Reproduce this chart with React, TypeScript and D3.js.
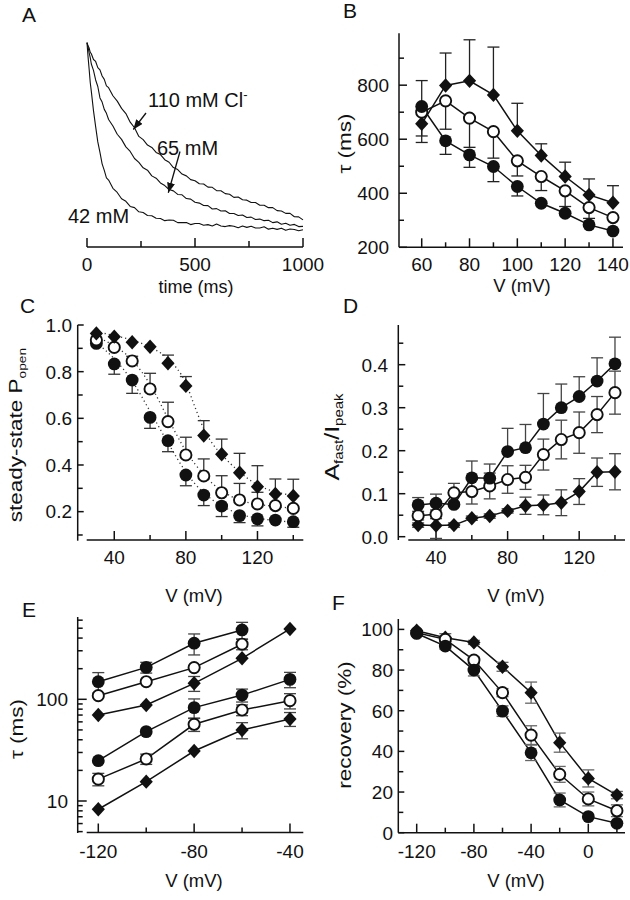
import React from "react";
import * as d3 from "d3";

const FONT = "'Liberation Sans', Arial, Helvetica, sans-serif";
const INK = "#111";

// ---------------- Panel A: current traces ----------------
const A_TIME = [0,5,10,15,20,30,40,50,60,70,80,90,100,120,140,160,180,200,220,240,260,280,300,320,340,360,380,400,420,440,460,480,500,520,540,560,580,600,620,640,660,680,700,720,740,760,780,800,820,840,860,880,900,920,940,960,980,1000];
const A_110 = [1.000,0.983,0.973,0.951,0.944,0.915,0.905,0.874,0.862,0.831,0.814,0.781,0.772,0.731,0.704,0.667,0.641,0.597,0.569,0.525,0.509,0.481,0.469,0.444,0.433,0.407,0.394,0.367,0.357,0.334,0.325,0.306,0.300,0.285,0.284,0.268,0.267,0.250,0.250,0.235,0.232,0.216,0.218,0.204,0.202,0.190,0.190,0.176,0.176,0.164,0.164,0.149,0.147,0.135,0.135,0.118,0.117,0.102];
const A_65 = [1.000,0.978,0.948,0.924,0.892,0.860,0.811,0.778,0.720,0.699,0.662,0.642,0.611,0.578,0.536,0.510,0.472,0.449,0.413,0.393,0.366,0.354,0.325,0.313,0.289,0.276,0.256,0.249,0.231,0.229,0.210,0.207,0.191,0.187,0.175,0.174,0.157,0.159,0.147,0.148,0.134,0.134,0.124,0.127,0.114,0.116,0.104,0.106,0.098,0.100,0.088,0.092,0.080,0.085,0.075,0.079,0.068,0.069];
const A_42 = [1.000,0.927,0.864,0.798,0.753,0.656,0.575,0.497,0.444,0.386,0.353,0.315,0.304,0.262,0.241,0.209,0.196,0.170,0.164,0.143,0.139,0.124,0.123,0.110,0.109,0.098,0.101,0.100,0.088,0.088,0.089,0.078,0.084,0.084,0.075,0.078,0.071,0.081,0.071,0.068,0.073,0.070,0.062,0.071,0.064,0.070,0.061,0.061,0.067,0.055,0.060,0.054,0.060,0.049,0.056,0.053,0.047,0.052];
const A_XMAJOR = [0, 500, 1000];
const A_XMINOR = [250, 750];
const A_XLABELS = ["0", "500", "1000"];

// ---------------- Panel B: tau vs V ----------------
const B_V = [60,70,80,90,100,110,120,130,140];
const B_FILLED = [721,594,542,499,425,363,326,283,260];
const B_FILLED_DOWN = [133,50,46,56,35,0,0,0,0];
const B_OPEN = [700,742,678,628,520,462,409,347,310];
const B_OPEN_DOWN = [88,105,108,98,56,52,58,40,0];
const B_DIAMOND = [657,799,816,764,631,540,462,394,365];
const B_DIAMOND_UP = [160,120,152,177,102,43,53,59,63];
const B_XMAJOR = [60,80,100,120,140];
const B_XMINOR = [70,90,110,130];
const B_YMAJOR = [200,400,600,800];
const B_YMINOR = [300,500,700,900];

// ---------------- Panel C: steady-state Popen ----------------
const C_V = [30,40,50,60,70,80,90,100,110,120,130,140];
const C_DIAMOND = [0.964,0.950,0.926,0.907,0.836,0.739,0.526,0.446,0.367,0.307,0.276,0.267];
const C_DIAMOND_UP = [0,0,0,0,0.035,0.040,0.064,0.065,0.083,0.090,0.064,0.072];
const C_OPEN = [0.936,0.904,0.846,0.726,0.586,0.443,0.353,0.281,0.250,0.233,0.226,0.214];
const C_OPEN_UP = [0,0,0.020,0.067,0.083,0.076,0.073,0.073,0.071,0.050,0.050,0];
const C_FILLED = [0.921,0.833,0.764,0.604,0.504,0.357,0.271,0.224,0.183,0.169,0.164,0.157];
const C_FILLED_DOWN = [0,0.044,0.057,0.047,0.047,0.046,0.045,0.045,0.030,0.030,0,0.024];
const C_FIT_V = [30,40,50,60,70,80,85,90,95,100,110,120,130,140];
const C_FIT_DIAMOND = [0.970,0.955,0.935,0.905,0.855,0.750,0.650,0.555,0.490,0.445,0.370,0.315,0.285,0.270];
const C_FIT_OPEN = [0.950,0.910,0.850,0.745,0.600,0.460,0.405,0.360,0.320,0.290,0.250,0.232,0.222,0.215];
const C_FIT_FILLED = [0.925,0.855,0.760,0.630,0.495,0.370,0.320,0.280,0.250,0.225,0.190,0.172,0.162,0.155];
const C_XMAJOR = [40,80,120];
const C_XMINOR = [60,100,140];
const C_YMAJOR = [0.2,0.4,0.6,0.8,1.0];
const C_YMINOR = [0.1,0.3,0.5,0.7,0.9];

// ---------------- Panel D: Afast/Ipeak ----------------
const D_V = [30,40,50,60,70,80,90,100,110,120,130,140];
const D_FILLED = [0.074,0.078,0.075,0.137,0.136,0.198,0.207,0.262,0.300,0.326,0.362,0.402];
const D_FILLED_UP = [0.017,0.021,0,0.039,0.033,0.054,0.054,0.071,0.055,0.046,0.054,0.062];
const D_OPEN = [0.049,0.052,0.102,0.105,0.118,0.133,0.138,0.191,0.226,0.242,0.284,0.335];
const D_OPEN_ERR = [0.010,0.010,0.022,0.029,0.030,0.032,0.028,0.036,0.045,0.048,0.042,0.050];
const D_DIAMOND = [0.027,0.026,0.027,0.043,0.048,0.060,0.072,0.074,0.079,0.105,0.150,0.151];
const D_DIAMOND_ERR = [0.005,0.030,0.005,0.005,0.005,0.005,0.020,0.023,0.030,0.030,0.033,0.042];
const D_XMAJOR = [40,80,120];
const D_XMINOR = [60,100,140];
const D_YMAJOR = [0,0.1,0.2,0.3,0.4];
const D_YMINOR = [0.05,0.15,0.25,0.35,0.45];

// ---------------- Panel E: tau (log) vs V ----------------
const E_V = [-120,-100,-80,-60,-40];
const E_FILLED_SLOW = [149,206,356,481];
const E_FILLED_SLOW_ERR = [34,25,83,90];
const E_OPEN_SLOW = [108.6,149,205,348];
const E_OPEN_SLOW_ERR = [0,0,0,41];
const E_DIAMOND_SLOW = [70.2,87.9,143.6,253,492];
const E_DIAMOND_SLOW_ERR = [0,0,24,0,0];
const E_FILLED_FAST = [24.9,48.1,82.8,110,157];
const E_FILLED_FAST_ERR = [0,0,18,16,27];
const E_OPEN_FAST = [16.4,25.9,56.8,78.5,97];
const E_OPEN_FAST_ERR = [2.3,3,8.5,9.5,16.6];
const E_DIAMOND_FAST = [8.3,15.5,31,49.9,64.1];
const E_DIAMOND_FAST_ERR = [0,0,0,9,10];
const E_XMAJOR = [-120,-80,-40];
const E_XMINOR = [-100,-60];
const E_YMAJOR = [10,100];
const E_YMINOR = [5,6,7,8,9,20,30,40,50,60,70,80,90,200,300,400,500,600];

// ---------------- Panel F: recovery ----------------
const F_V = [-120,-100,-80,-60,-40,-20,0,20];
const F_DIAMOND = [99.3,95.9,93.6,81.6,68.9,44.3,26.7,18.5];
const F_DIAMOND_ERR = [0,2,1,2.2,5.2,4.7,4.2,1.8];
const F_OPEN = [98.4,95.1,84.9,68.9,48,28.7,16.6,10.8];
const F_OPEN_ERR = [0,1,1.5,2,4.6,3.9,3.4,2.9];
const F_FILLED = [98,91.8,80,59.8,39.3,16.1,7.9,4.6];
const F_FILLED_ERR = [0,1.5,2.9,2.6,3.8,3.4,0,0];
const F_XMAJOR = [-120,-80,-40,0];
const F_XMINOR = [-100,-60,-20,20];
const F_YMAJOR = [0,20,40,60,80,100];
const F_YMINOR = [10,30,50,70,90];

type Scale = (v: number) => number;
type Ser = { shape: "filled" | "open" | "diamond"; xs: number[]; ys: number[]; up?: number[]; down?: number[] };

function Marker({ shape, cx, cy }: { shape: string; cx: number; cy: number }) {
  if (shape === "filled") return <circle cx={cx} cy={cy} r={6.4} fill={INK} />;
  if (shape === "open") return <circle cx={cx} cy={cy} r={5.6} fill="#fff" stroke={INK} strokeWidth={1.9} />;
  return <path d={`M${cx},${cy - 7.2}L${cx + 6.6},${cy}L${cx},${cy + 7.2}L${cx - 6.6},${cy}Z`} fill={INK} />;
}

function Plot({ sx, sy, series, connect, errColor }: { sx: Scale; sy: Scale; series: Ser[]; connect: boolean; errColor: string }) {
  return (
    <g>
      {connect &&
        series.map((s, k) => {
          const line = d3.line<number>().x((_, i) => sx(s.xs[i])).y((d) => sy(d));
          return <path key={"l" + k} d={line(s.ys) || ""} fill="none" stroke={INK} strokeWidth={1.5} />;
        })}
      {series.map((s, k) => (
        <g key={"e" + k} stroke={errColor} strokeWidth={1.3}>
          {s.ys.map((v, i) => {
            const x = sx(s.xs[i]);
            const out: any[] = [];
            const u = s.up ? s.up[i] : 0;
            const d = s.down ? s.down[i] : 0;
            if (u > 0) {
              const y2 = sy(v + u);
              out.push(<line key={"u" + i} x1={x} x2={x} y1={sy(v)} y2={y2} />);
              out.push(<line key={"uc" + i} x1={x - 6} x2={x + 6} y1={y2} y2={y2} />);
            }
            if (d > 0) {
              const y2 = sy(v - d);
              out.push(<line key={"d" + i} x1={x} x2={x} y1={sy(v)} y2={y2} />);
              out.push(<line key={"dc" + i} x1={x - 6} x2={x + 6} y1={y2} y2={y2} />);
            }
            return out;
          })}
        </g>
      ))}
      {series.map((s, k) => (
        <g key={"m" + k}>
          {s.ys.map((v, i) => (
            <Marker key={i} shape={s.shape} cx={sx(s.xs[i])} cy={sy(v)} />
          ))}
        </g>
      ))}
    </g>
  );
}

function Axes(p: {
  sx: Scale; sy?: Scale;
  xAxisY: number; xFrom: number; xTo: number;
  yAxisX?: number; yFrom?: number; yTo?: number;
  xMajor: number[]; xMinor: number[]; xLabels: string[]; xLabelY: number;
  yMajor?: number[]; yMinor?: number[]; yLabels?: string[]; yLabelX?: number;
  xMajLen?: number; xMinLen?: number; yMajLen?: number; yMinLen?: number;
}) {
  const xMajLen = p.xMajLen ?? 9, xMinLen = p.xMinLen ?? 5, yMajLen = p.yMajLen ?? 8, yMinLen = p.yMinLen ?? 5;
  return (
    <g>
      <g stroke={INK} strokeWidth={1.5} fill="none">
        <line x1={p.xFrom} x2={p.xTo} y1={p.xAxisY} y2={p.xAxisY} />
        {p.xMajor.map((v) => (
          <line key={"xM" + v} x1={p.sx(v)} x2={p.sx(v)} y1={p.xAxisY} y2={p.xAxisY - xMajLen} />
        ))}
        {p.xMinor.map((v) => (
          <line key={"xm" + v} x1={p.sx(v)} x2={p.sx(v)} y1={p.xAxisY} y2={p.xAxisY - xMinLen} />
        ))}
        {p.sy && p.yAxisX !== undefined && (
          <g>
            <line x1={p.yAxisX} x2={p.yAxisX} y1={p.yFrom} y2={p.yTo} />
            {(p.yMajor || []).map((v) => (
              <line key={"yM" + v} x1={p.yAxisX} x2={p.yAxisX! + yMajLen} y1={p.sy!(v)} y2={p.sy!(v)} />
            ))}
            {(p.yMinor || []).map((v) => (
              <line key={"ym" + v} x1={p.yAxisX} x2={p.yAxisX! + yMinLen} y1={p.sy!(v)} y2={p.sy!(v)} />
            ))}
          </g>
        )}
      </g>
      <g fontSize={19} fill={INK} fontFamily={FONT}>
        {p.xMajor.map((v, i) => (
          <text key={"xl" + v} x={p.sx(v)} y={p.xLabelY} textAnchor="middle">
            {p.xLabels[i]}
          </text>
        ))}
        {p.sy &&
          (p.yMajor || []).map((v, i) =>
            p.yLabels && p.yLabels[i] ? (
              <text key={"yl" + v} x={p.yLabelX} y={p.sy!(v)} dy="0.36em" textAnchor="end">
                {p.yLabels[i]}
              </text>
            ) : null
          )}
      </g>
    </g>
  );
}

function HTitle({ x, y, children, size = 18.5 }: any) {
  return (
    <text x={x} y={y} textAnchor="middle" fontSize={size} fontFamily={FONT} fill={INK}>
      {children}
    </text>
  );
}

function VTitle({ x, y, children, size = 18, stretch = 1.25 }: any) {
  return (
    <text transform={`translate(${x},${y}) rotate(-90) scale(${stretch},1)`} textAnchor="middle" fontSize={size} fontFamily={FONT} fill={INK}>
      {children}
    </text>
  );
}

function Letter({ x, y, t }: { x: number; y: number; t: string }) {
  return (
    <text x={x} y={y} fontSize={21} fontFamily={FONT} fill={INK}>
      {t}
    </text>
  );
}

export default function App() {
  // A
  const sxA = d3.scaleLinear().domain([0, 1000]).range([87, 303]);
  const syA = d3.scaleLinear().domain([0, 1]).range([240, 42.7]);
  const traceLine = d3.line<number>().x((_, i) => sxA(A_TIME[i])).y((d) => syA(d));

  // B
  const sxB = d3.scaleLinear().domain([50.5, 144.2]).range([399, 623]);
  const syB = d3.scaleLinear().domain([200, 992]).range([247.3, 33.3]);
  // C
  const sxC = d3.scaleLinear().domain([24.6, 145.6]).range([86.7, 303.3]);
  const syC = d3.scaleLinear().domain([0.0755, 1.0]).range([540.7, 325]);
  // D
  const sxD = d3.scaleLinear().domain([24.5, 145.6]).range([408.3, 625]);
  const syD = d3.scaleLinear().domain([0, 0.4]).range([536.7, 364.7]);
  // E
  const sxE = d3.scaleLinear().domain([-124.84, -34.44]).range([86.7, 303.3]);
  const syE = d3.scaleLog().domain([10, 100]).range([801, 699.3]);
  // F
  const sxF = d3.scaleLinear().domain([-120, 20]).range([416.7, 616.9]);
  const syF = d3.scaleLinear().domain([0, 100]).range([832.7, 629.4]);

  const fitLine = (ys: number[]) =>
    d3.line<number>().x((_, i) => sxC(C_FIT_V[i])).y((d) => syC(d)).curve(d3.curveMonotoneX)(ys) || "";

  return (
    <svg width={630} height={900} viewBox="0 0 630 900" style={{ position: "absolute", left: 0, top: 0, background: "#fff" }}>
      <defs>
        <marker id="arr" viewBox="0 0 10 8" refX="10" refY="4" markerWidth="10" markerHeight="8" markerUnits="userSpaceOnUse" orient="auto">
          <path d="M0,0L10,4L0,8Z" fill={INK} />
        </marker>
      </defs>
      <rect x={0} y={0} width={630} height={900} fill="#fff" />

      {/* ---------- A ---------- */}
      <Letter x={22} y={22} t="A" />
      <g fill="none" stroke={INK} strokeWidth={1.1} strokeLinejoin="round">
        <path d={traceLine(A_110) || ""} />
        <path d={traceLine(A_65) || ""} />
        <path d={traceLine(A_42) || ""} />
      </g>
      <Axes sx={sxA} xAxisY={247} xFrom={87} xTo={303} xMajor={A_XMAJOR} xMinor={A_XMINOR} xLabels={A_XLABELS} xLabelY={271} xMinLen={6} />
      <HTitle x={196} y={293} size={18}>time (ms)</HTitle>
      <g fontSize={20} fontFamily={FONT} fill={INK}>
        <text x={148} y={107}>
          110 mM Cl<tspan fontSize={13} dy={-8}>-</tspan>
        </text>
        <text x={157} y={155}>65 mM</text>
        <text x={68} y={223}>42 mM</text>
      </g>
      <g stroke={INK} strokeWidth={1.3}>
        <line x1={146} y1={113} x2={133.3} y2={129.5} markerEnd="url(#arr)" />
        <line x1={180} y1={151.5} x2={168.3} y2={192.7} markerEnd="url(#arr)" />
      </g>

      {/* ---------- B ---------- */}
      <Letter x={343} y={18} t="B" />
      <Axes
        sx={sxB} sy={syB}
        xAxisY={247.3} xFrom={399} xTo={623}
        yAxisX={399} yFrom={33.3} yTo={247.3}
        xMajor={B_XMAJOR} xMinor={B_XMINOR} xLabels={B_XMAJOR.map(String)} xLabelY={271}
        yMajor={B_YMAJOR} yMinor={B_YMINOR} yLabels={B_YMAJOR.map(String)} yLabelX={389}
      />
      <Plot
        sx={sxB} sy={syB} connect errColor="#222"
        series={[
          { shape: "diamond", xs: B_V, ys: B_DIAMOND, up: B_DIAMOND_UP },
          { shape: "open", xs: B_V, ys: B_OPEN, down: B_OPEN_DOWN },
          { shape: "filled", xs: B_V, ys: B_FILLED, down: B_FILLED_DOWN },
        ]}
      />
      <HTitle x={522} y={292}>V (mV)</HTitle>
      <VTitle x={351} y={143.5}>τ (ms)</VTitle>

      {/* ---------- C ---------- */}
      <Letter x={20} y={313} t="C" />
      <Axes
        sx={sxC} sy={syC}
        xAxisY={540} xFrom={86.7} xTo={303.3}
        yAxisX={77.7} yFrom={325} yTo={540.7}
        xMajor={C_XMAJOR} xMinor={C_XMINOR} xLabels={C_XMAJOR.map(String)} xLabelY={564}
        yMajor={C_YMAJOR} yMinor={C_YMINOR} yLabels={C_YMAJOR.map((v) => v.toFixed(1))} yLabelX={72}
        yMajLen={6} yMinLen={5}
      />
      <g fill="none" stroke="#333" strokeWidth={1.3} strokeDasharray="1.2 3">
        <path d={fitLine(C_FIT_DIAMOND)} />
        <path d={fitLine(C_FIT_OPEN)} />
        <path d={fitLine(C_FIT_FILLED)} />
      </g>
      <Plot
        sx={sxC} sy={syC} connect={false} errColor="#333"
        series={[
          { shape: "filled", xs: C_V, ys: C_FILLED, down: C_FILLED_DOWN },
          { shape: "open", xs: C_V, ys: C_OPEN, up: C_OPEN_UP },
          { shape: "diamond", xs: C_V, ys: C_DIAMOND, up: C_DIAMOND_UP },
        ]}
      />
      <HTitle x={194} y={602}>V (mV)</HTitle>
      <VTitle x={22} y={435}>
        steady-state P<tspan fontSize={11} dy={4}>open</tspan>
      </VTitle>

      {/* ---------- D ---------- */}
      <Letter x={343} y={313} t="D" />
      <Axes
        sx={sxD} sy={syD}
        xAxisY={540} xFrom={408.3} xTo={625}
        yAxisX={398.3} yFrom={325} yTo={540}
        xMajor={D_XMAJOR} xMinor={D_XMINOR} xLabels={D_XMAJOR.map(String)} xLabelY={564}
        yMajor={D_YMAJOR} yMinor={D_YMINOR} yLabels={D_YMAJOR.map((v) => v.toFixed(1))} yLabelX={388}
        yMajLen={7} yMinLen={5}
      />
      <Plot
        sx={sxD} sy={syD} connect errColor="#444"
        series={[
          { shape: "diamond", xs: D_V, ys: D_DIAMOND, up: D_DIAMOND_ERR, down: D_DIAMOND_ERR },
          { shape: "open", xs: D_V, ys: D_OPEN, up: D_OPEN_ERR, down: D_OPEN_ERR },
          { shape: "filled", xs: D_V, ys: D_FILLED, up: D_FILLED_UP },
        ]}
      />
      <HTitle x={516} y={602}>V (mV)</HTitle>
      <VTitle x={339} y={437} size={20}>
        A<tspan fontSize={12} dy={4}>fast</tspan>
        <tspan dy={-4}>/I</tspan>
        <tspan fontSize={12} dy={4}>peak</tspan>
      </VTitle>

      {/* ---------- E ---------- */}
      <Letter x={22} y={617} t="E" />
      <Axes
        sx={sxE} sy={syE}
        xAxisY={832.5} xFrom={86.7} xTo={303.3}
        yAxisX={77.7} yFrom={617} yTo={833}
        xMajor={E_XMAJOR} xMinor={E_XMINOR} xLabels={E_XMAJOR.map(String)} xLabelY={858}
        yMajor={E_YMAJOR} yMinor={E_YMINOR} yLabels={E_YMAJOR.map(String)} yLabelX={68}
        yMajLen={9} yMinLen={5}
      />
      <Plot
        sx={sxE} sy={syE} connect errColor="#444"
        series={[
          { shape: "filled", xs: E_V, ys: E_FILLED_SLOW, up: E_FILLED_SLOW_ERR, down: E_FILLED_SLOW_ERR },
          { shape: "open", xs: E_V, ys: E_OPEN_SLOW, up: E_OPEN_SLOW_ERR, down: E_OPEN_SLOW_ERR },
          { shape: "diamond", xs: E_V, ys: E_DIAMOND_SLOW, up: E_DIAMOND_SLOW_ERR, down: E_DIAMOND_SLOW_ERR },
          { shape: "filled", xs: E_V, ys: E_FILLED_FAST, up: E_FILLED_FAST_ERR, down: E_FILLED_FAST_ERR },
          { shape: "open", xs: E_V, ys: E_OPEN_FAST, up: E_OPEN_FAST_ERR, down: E_OPEN_FAST_ERR },
          { shape: "diamond", xs: E_V, ys: E_DIAMOND_FAST, up: E_DIAMOND_FAST_ERR, down: E_DIAMOND_FAST_ERR },
        ]}
      />
      <HTitle x={194} y={887}>V (mV)</HTitle>
      <VTitle x={23} y={729}>τ (ms)</VTitle>

      {/* ---------- F ---------- */}
      <Letter x={332} y={610} t="F" />
      <Axes
        sx={sxF} sy={syF}
        xAxisY={832.7} xFrom={398.3} xTo={625}
        yAxisX={398.3} yFrom={619} yTo={832.7}
        xMajor={F_XMAJOR} xMinor={F_XMINOR} xLabels={F_XMAJOR.map(String)} xLabelY={858}
        yMajor={F_YMAJOR} yMinor={F_YMINOR} yLabels={F_YMAJOR.map(String)} yLabelX={393}
        yMajLen={6} yMinLen={5}
      />
      <Plot
        sx={sxF} sy={syF} connect errColor="#666"
        series={[
          { shape: "diamond", xs: F_V, ys: F_DIAMOND, up: F_DIAMOND_ERR, down: F_DIAMOND_ERR },
          { shape: "open", xs: F_V, ys: F_OPEN, up: F_OPEN_ERR, down: F_OPEN_ERR },
          { shape: "filled", xs: F_V, ys: F_FILLED, up: F_FILLED_ERR, down: F_FILLED_ERR },
        ]}
      />
      <HTitle x={516} y={887}>V (mV)</HTitle>
      <VTitle x={351} y={725}>recovery (%)</VTitle>
    </svg>
  );
}
